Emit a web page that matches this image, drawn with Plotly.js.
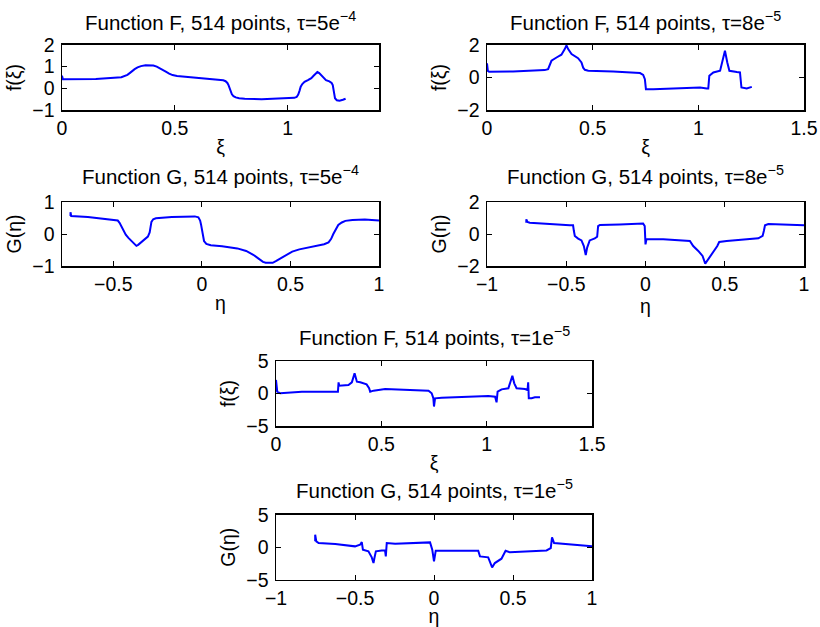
<!DOCTYPE html>
<html><head><meta charset="utf-8">
<script src="https://cdn.plot.ly/plotly-3.0.1.min.js"></script>
<style>html,body{margin:0;padding:0;background:#fff}</style>
</head><body><div id="chart" style="width:820px;height:627px"></div>
<script>
// ---- data ----
const titles = [
  "Function F, 514 points, τ=5e<sup>−4</sup>",
  "Function F, 514 points, τ=8e<sup>−5</sup>",
  "Function G, 514 points, τ=5e<sup>−4</sup>",
  "Function G, 514 points, τ=8e<sup>−5</sup>",
  "Function F, 514 points, τ=1e<sup>−5</sup>",
  "Function G, 514 points, τ=1e<sup>−5</sup>"
];
const xLabels = ["ξ","ξ","η","η","ξ","η"];
const yLabels = ["f(ξ)","f(ξ)","G(η)","G(η)","f(ξ)","G(η)"];

const xF1 = [0,0,0.004,0.15,0.263,0.28,0.29,0.30,0.31,0.322,0.335,0.35,0.37,0.39,0.405,0.42,0.44,0.46,0.475,0.49,0.51,0.53,0.633,0.70,0.715,0.725,0.733,0.738,0.743,0.748,0.753,0.76,0.77,0.785,0.81,0.885,1.003,1.03,1.04,1.047,1.053,1.058,1.065,1.075,1.09,1.105,1.115,1.125,1.132,1.14,1.15,1.16,1.17,1.185,1.195,1.2,1.203,1.206,1.21,1.218,1.23,1.245,1.257];
const yF1 = [0.42,0.58,0.42,0.43,0.51,0.57,0.62,0.70,0.79,0.88,0.96,1.02,1.055,1.06,1.05,1.0,0.9,0.77,0.68,0.61,0.57,0.55,0.46,0.40,0.37,0.33,0.25,0.15,0.0,-0.15,-0.27,-0.35,-0.41,-0.45,-0.47,-0.49,-0.43,-0.43,-0.39,-0.28,-0.1,0.08,0.2,0.3,0.38,0.47,0.58,0.7,0.75,0.7,0.58,0.45,0.38,0.32,0.25,0.15,-0.1,-0.3,-0.45,-0.54,-0.56,-0.52,-0.47];

const xF2 = [0,0,0.004,0.01,0.123,0.273,0.289,0.297,0.305,0.329,0.352,0.368,0.376,0.384,0.40,0.431,0.447,0.455,0.463,0.479,0.597,0.724,0.739,0.747,0.752,0.787,0.913,1.008,1.04,1.047,1.052,1.071,1.103,1.114,1.126,1.137,1.147,1.182,1.197,1.204,1.229,1.253];
const yF2 = [0.35,0.86,0.41,0.35,0.37,0.45,0.51,0.8,1.02,1.22,1.39,1.73,1.96,1.73,1.43,1.18,0.92,0.6,0.47,0.41,0.37,0.27,0.16,-0.1,-0.71,-0.71,-0.65,-0.61,-0.67,-0.67,0.1,0.31,0.41,0.92,1.63,0.92,0.41,0.33,0.31,-0.61,-0.67,-0.57];

const xG1 = [-0.742,-0.742,-0.738,-0.644,-0.483,-0.475,-0.465,-0.455,-0.445,-0.43,-0.415,-0.40,-0.385,-0.37,-0.36,-0.345,-0.325,-0.305,-0.295,-0.29,-0.285,-0.275,-0.26,-0.17,-0.076,-0.04,-0.02,-0.01,-0.005,0,0.005,0.012,0.025,0.05,0.114,0.2,0.25,0.29,0.32,0.345,0.36,0.40,0.42,0.45,0.48,0.51,0.55,0.6,0.65,0.69,0.715,0.73,0.742,0.755,0.77,0.79,0.81,0.85,0.92,1];
const yG1 = [0.56,0.68,0.56,0.53,0.44,0.42,0.35,0.24,0.13,-0.02,-0.12,-0.2,-0.29,-0.37,-0.34,-0.27,-0.18,-0.08,0.05,0.25,0.38,0.46,0.49,0.53,0.56,0.55,0.52,0.42,0.3,0.12,-0.08,-0.22,-0.31,-0.35,-0.38,-0.45,-0.53,-0.65,-0.77,-0.87,-0.9,-0.9,-0.84,-0.74,-0.63,-0.55,-0.48,-0.42,-0.37,-0.32,-0.26,-0.15,0.0,0.15,0.28,0.36,0.41,0.44,0.45,0.42];

const xG2 = [-0.752,-0.752,-0.745,-0.73,-0.478,-0.457,-0.452,-0.446,-0.425,-0.404,-0.389,-0.377,-0.368,-0.352,-0.32,-0.305,-0.299,-0.288,-0.162,-0.015,-0.005,0,0,0.006,0.112,0.28,0.301,0.333,0.36,0.377,0.396,0.427,0.453,0.465,0.512,0.712,0.739,0.747,0.754,0.775,1];
const yG2 = [0.71,0.92,0.75,0.71,0.54,0.54,0.2,-0.12,-0.29,-0.4,-0.75,-1.31,-0.85,-0.4,-0.27,-0.17,0.5,0.56,0.6,0.65,0.5,-0.2,-0.65,-0.33,-0.33,-0.44,-0.75,-1.06,-1.37,-1.85,-1.58,-1.12,-0.75,-0.5,-0.44,-0.27,-0.12,0.2,0.54,0.62,0.54];

const xF3 = [0,0,0.006,0.02,0.123,0.28,0.294,0.297,0.30,0.344,0.36,0.373,0.384,0.40,0.43,0.442,0.447,0.463,0.518,0.724,0.739,0.747,0.75,0.755,0.787,0.913,1.008,1.04,1.047,1.052,1.071,1.103,1.11,1.122,1.131,1.142,1.182,1.194,1.197,1.2,1.213,1.229,1.253];
const yF3 = [0.3,2.08,0.28,0.03,0.28,0.38,0.28,1.72,1.2,1.3,1.72,3.1,1.82,1.72,1.4,0.8,0.28,0.44,0.69,0.44,0.03,-0.74,-2.0,-0.74,-0.64,-0.49,-0.38,-0.49,-1.36,0.28,0.64,0.8,1.4,2.74,1.56,0.8,0.69,0.54,1.72,-0.74,-0.74,-0.59,-0.59];

const xG3 = [-0.752,-0.752,-0.745,-0.73,-0.625,-0.5,-0.468,-0.457,-0.45,-0.415,-0.394,-0.383,-0.377,-0.368,-0.331,-0.31,-0.305,-0.299,-0.246,-0.057,-0.025,-0.011,0,0.011,0.048,0.28,0.291,0.343,0.368,0.385,0.427,0.453,0.48,0.712,0.739,0.747,0.76,0.848,1];
const yG3 = [0.9,1.92,0.9,0.64,0.49,0.13,0.38,0.79,-0.38,-0.64,-1.56,-2.44,-1.67,-0.64,-0.49,-0.49,-1.41,0.64,0.54,0.74,0.74,-0.38,-2.18,-0.54,-0.54,-0.54,-1.41,-1.56,-3.1,-2.44,-1.77,-0.54,-0.79,-0.49,-0.13,1.51,0.64,0.49,0.13];

const xRanges = [[0,1.405],[0,1.5],[-0.79,1],[-1,1],[0,1.5],[-1,1]];
const yRanges = [[-1,2],[-2,2],[-1,1],[-2,2],[-5,5],[-5,5]];
const yTicks = [[-1,0,1,2],[-2,0,2],[-1,0,1],[-2,0,2],[-5,0,5],[-5,0,5]];
const xTicks = [[0,0.5,1],[0,0.5,1,1.5],[-0.5,0,0.5,1],[-1,-0.5,0,0.5,1],[0,0.5,1,1.5],[-1,-0.5,0,0.5,1]];

// ---- layout (pixel boxes: left, right, top, bottom) ----
const W = 820, H = 627;
const boxes = [
  [62,379,44.7,110.3],[487,804,44.7,110.3],
  [62,379,202,266],[487,804,202,266],
  [276,592,361,426],[276,592,514.7,579.7]
];
const titleY = [20.5,20.5,175.5,175.5,335.5,489];
const xTitleStandoff = [2,2,2,2,2,5];

const xs = [xF1,xF2,xG1,xG2,xF3,xG3];
const ys = [yF1,yF2,yG1,yG2,yF3,yG3];
const FONT = "Liberation Sans, Arial, Helvetica, sans-serif";
const TS = 20.5, TK = 19.5;

const traces = [];
const layout = {
  width: W, height: H, margin:{l:0,r:0,t:0,b:0},
  paper_bgcolor:'white', plot_bgcolor:'white', showlegend:false,
  font:{family:FONT, size:TK, color:'black'},
  annotations:[]
};
for (let i=0;i<6;i++){
  const n = i===0 ? '' : String(i+1);
  traces.push({x:xs[i], y:ys[i], type:'scatter', mode:'lines',
    line:{color:'#0000ff', width:2}, xaxis:'x'+n, yaxis:'y'+n, hoverinfo:'skip'});
  const b = boxes[i];
  const common = {showline:true, mirror:'ticks', linecolor:'black', linewidth:1.5,
    ticks:'inside', ticklen:5, tickcolor:'black', tickwidth:1, showgrid:false, zeroline:false,
    tickfont:{family:FONT,size:TK,color:'black'}};
  layout['xaxis'+n] = Object.assign({}, common, {
    domain:[b[0]/W, b[1]/W], anchor:'y'+n, range:xRanges[i],
    tickmode:'array', tickvals:xTicks[i], ticklabelstandoff:0,
    title:{text:xLabels[i], font:{family:FONT,size:TK,color:'black'}, standoff:xTitleStandoff[i]}
  });
  layout['yaxis'+n] = Object.assign({}, common, {
    domain:[1-b[3]/H, 1-b[2]/H], anchor:'x'+n, range:yRanges[i],
    tickmode:'array', tickvals:yTicks[i], ticklabelstandoff:2,
    title:{text:yLabels[i], font:{family:FONT,size:TK,color:'black'}, standoff:5}
  });
  layout.annotations.push({text:titles[i], xref:'paper', yref:'paper',
    x:(b[0]+b[1])/2/W, y:1-titleY[i]/H, xanchor:'center', yanchor:'middle',
    showarrow:false, font:{family:FONT,size:TS,color:'black'}});
}
Plotly.newPlot('chart', traces, layout, {staticPlot:true, displayModeBar:false});
</script>
</body></html>
